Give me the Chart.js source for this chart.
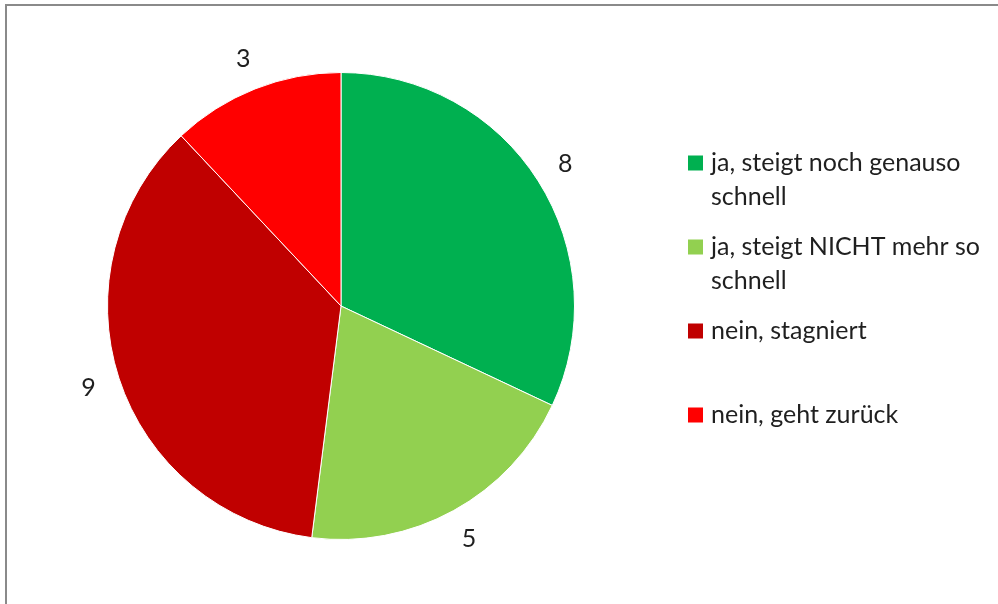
<!DOCTYPE html>
<html>
<head>
<meta charset="utf-8">
<script src="https://cdn.jsdelivr.net/npm/chart.js@4/dist/chart.umd.min.js"></script>
<style>
    html, body { margin: 0; padding: 0; background: #fff; }
    #wrap { width: 998px; height: 604px; position: relative; }
</style>
</head>
<body>
<div id="wrap"><canvas id="pieChart" width="998" height="604"></canvas></div>
<script>
// --- Data ---
const categories = [
    ['ja, steigt noch genauso', 'schnell'],
    ['ja, steigt NICHT mehr so', 'schnell'],
    ['nein, stagniert'],
    ['nein, geht zurück']
];
const counts = [8, 5, 9, 3];
const sliceColors = ['#00B050', '#92D050', '#C00000', '#FF0000'];

const FONT = '25px Lato, "Open Sans", sans-serif';
const TEXT_COLOR = '#1f1f1f';

// grey frame along the top and left edge
const framePlugin = {
    id: 'frame',
    beforeDraw(chart) {
        const ctx = chart.ctx;
        ctx.save();
        ctx.fillStyle = '#8a8a8a';
        ctx.fillRect(5, 4, chart.width - 5, 2);
        ctx.fillRect(5, 4, 2, chart.height - 4);
        ctx.restore();
    }
};

// value labels just outside each slice
const outsideLabels = {
    id: 'outsideLabels',
    afterDatasetsDraw(chart) {
        const ctx = chart.ctx;
        const meta = chart.getDatasetMeta(0);
        ctx.save();
        ctx.font = FONT;
        ctx.fillStyle = TEXT_COLOR;
        ctx.textAlign = 'center';
        ctx.textBaseline = 'middle';
        meta.data.forEach((arc, i) => {
            const mid = (arc.startAngle + arc.endAngle) / 2;
            const r = arc.outerRadius + 32;
            ctx.fillText(String(counts[i]), arc.x + Math.cos(mid) * r, arc.y + Math.sin(mid) * r);
        });
        ctx.restore();
    }
};

// legend on the right, labels wrap onto two lines
const sideLegend = {
    id: 'sideLegend',
    afterDraw(chart) {
        const ctx = chart.ctx;
        const boxX = 688, textX = 711, top = 163, step = 84, lineH = 34, box = 15;
        ctx.save();
        ctx.font = FONT;
        ctx.textBaseline = 'middle';
        categories.forEach((lines, i) => {
            const y = top + i * step;
            ctx.fillStyle = sliceColors[i];
            ctx.fillRect(boxX, y - box / 2, box, box);
            ctx.fillStyle = TEXT_COLOR;
            lines.forEach((ln, j) => ctx.fillText(ln, textX, y + j * lineH));
        });
        ctx.restore();
    }
};

new Chart(document.getElementById('pieChart'), {
    type: 'pie',
    data: {
        labels: categories.map(l => l.join(' ')),
        datasets: [{
            data: counts,
            backgroundColor: sliceColors,
            borderColor: '#ffffff',
            borderWidth: 1
        }]
    },
    options: {
        responsive: false,
        animation: false,
        layout: { padding: { left: 107, top: 72, right: 423, bottom: 64 } },
        plugins: {
            legend: { display: false },
            tooltip: { enabled: false }
        }
    },
    plugins: [framePlugin, outsideLabels, sideLegend]
});
</script>
</body>
</html>
